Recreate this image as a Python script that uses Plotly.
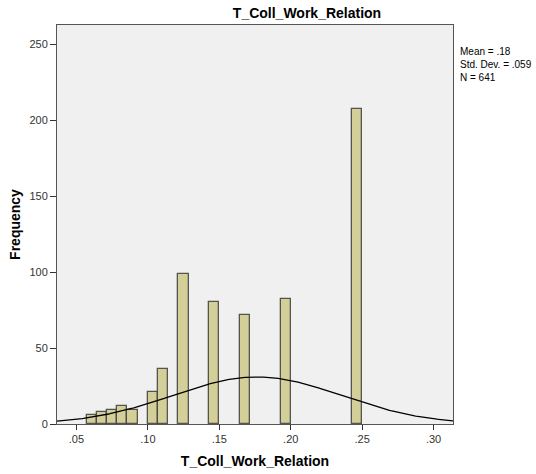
import numpy as np
import plotly.graph_objects as go

# Histogram data (bin width 1/140)
bin_width = 1 / 140
bin_index = [8, 9, 10, 11, 12, 14, 15, 17, 20, 23, 27, 34]
counts = [6, 8, 9, 12, 9, 21, 36, 99, 80, 72, 82, 207]
x_tickvals = [0.05, 0.10, 0.15, 0.20, 0.25, 0.30]
x_ticktext = [".05", ".10", ".15", ".20", ".25", ".30"]
y_tickvals = [0, 50, 100, 150, 200, 250]
mean_val = 0.1764
sd_val = 0.059
n_val = 641
title_text = "T_Coll_Work_Relation"

bin_centers = [(k + 0.5) * bin_width for k in bin_index]

xr = [0.0364, 0.3136]
xs = np.linspace(xr[0], xr[1], 300)
ys = n_val * bin_width * np.exp(-0.5 * ((xs - mean_val) / sd_val) ** 2) / (sd_val * np.sqrt(2 * np.pi))

font_family = "Liberation Sans, Arial, sans-serif"

fig = go.Figure()
fig.add_trace(go.Bar(
    x=bin_centers, y=counts, width=[bin_width] * len(counts),
    marker=dict(color="#D4CF98", line=dict(color="rgba(60,60,60,0.85)", width=1.3)),
    showlegend=False, hoverinfo="x+y",
))
fig.add_trace(go.Scatter(
    x=xs, y=ys, mode="lines", line=dict(color="black", width=1.3),
    showlegend=False, hoverinfo="skip",
))

fig.update_layout(
    width=536, height=474,
    margin=dict(l=57, r=83, t=25, b=50),
    paper_bgcolor="white", plot_bgcolor="#F0F0F0",
    font=dict(family=font_family, size=11, color="#222"),
    bargap=0,
    title=dict(text="<b>" + title_text + "</b>", x=307 / 536, xanchor="center",
               y=1 - 13 / 474, yanchor="middle", font=dict(size=14, color="black")),
    annotations=[dict(
        text="Mean = .18<br>Std. Dev. = .059<br>N = 641",
        xref="paper", yref="paper", x=1.012, y=0.952, xanchor="left", yanchor="top",
        align="left", showarrow=False, font=dict(size=10, color="black"),
    )],
)
fig.update_xaxes(
    range=xr, tickvals=x_tickvals, ticktext=x_ticktext, automargin=False,
    ticks="outside", ticklen=5, tickcolor="#333", showgrid=False, zeroline=False,
    showline=True, linecolor="#555", linewidth=1, mirror=True,
    tickfont=dict(size=11, color="#333"),
    title=dict(text="<b>" + title_text + "</b>", font=dict(size=14, color="black"), standoff=11),
)
fig.update_yaxes(
    range=[0, 262.5], tickvals=y_tickvals, automargin=False,
    ticks="outside", ticklen=6, tickcolor="#333", showgrid=False, zeroline=False,
    showline=True, linecolor="#555", linewidth=1, mirror=True,
    tickfont=dict(size=11, color="#333"),
    title=dict(text="<b>Frequency</b>", font=dict(size=14, color="black"), standoff=5),
)

fig.write_html("out.html")
